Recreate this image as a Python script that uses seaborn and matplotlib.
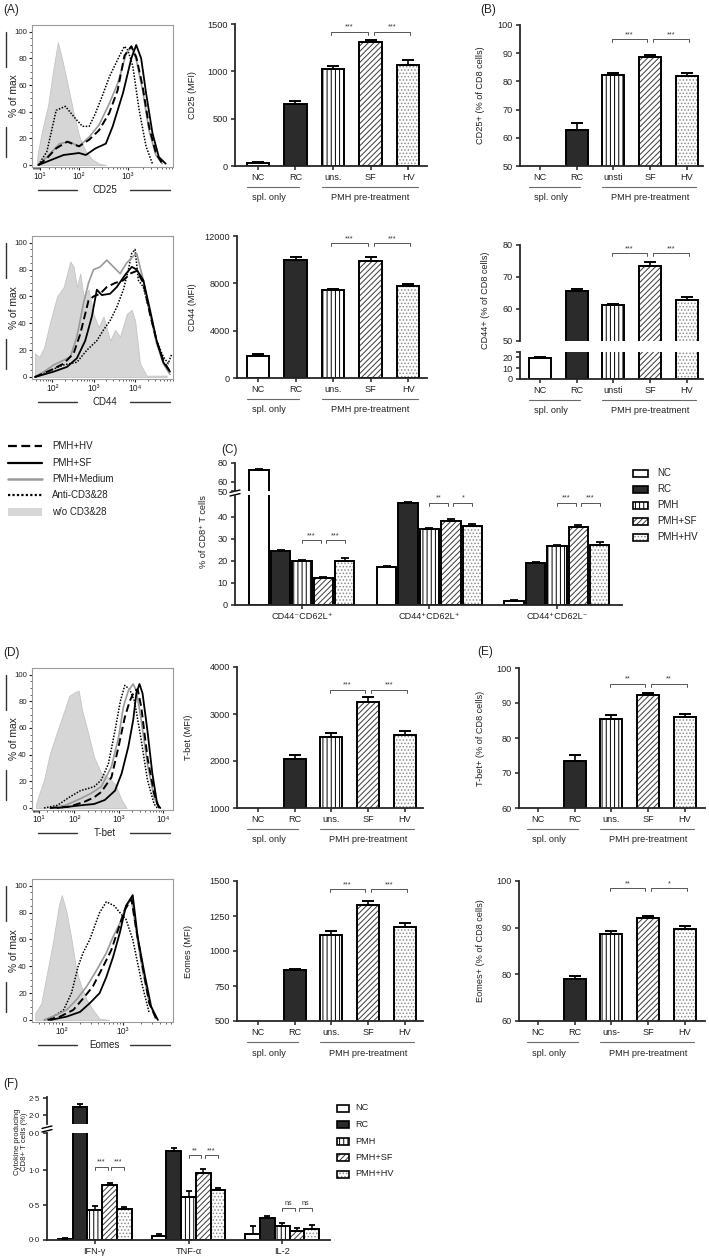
import numpy as np
import pandas as pd
import matplotlib
matplotlib.use("Agg")
import matplotlib.pyplot as plt
import matplotlib.colors as mcolors
import matplotlib.transforms as mtrans
from matplotlib.patches import Rectangle
from matplotlib.container import BarContainer
import seaborn as sns

sns.set_theme(style="ticks")
plt.rcParams["font.family"] = ["Liberation Sans", "DejaVu Sans"]
plt.rcParams["hatch.linewidth"] = 0.7
plt.rcParams["axes.linewidth"] = 1.3

# ------------------------------------------------------------------ data
conds = ["NC", "RC", "PMH", "PMH+SF", "PMH+HV"]
cats_uns = ["NC", "RC", "uns.", "SF", "HV"]
cats_unsti = ["NC", "RC", "unsti", "SF", "HV"]
cats_unsdash = ["NC", "RC", "uns-", "SF", "HV"]

cd25_mfi = [30, 650, 1025, 1315, 1065]
cd25_mfi_err = [12, 35, 35, 15, 55]
cd25_pct = [np.nan, 62.7, 82.3, 88.7, 81.9]
cd25_pct_err = [0, 2.7, 0.7, 0.5, 1.2]
cd44_mfi = [1900, 10000, 7400, 9900, 7800]
cd44_mfi_err = [100, 200, 120, 300, 180]
cd44_pct = [19.5, 65.6, 61.2, 73.5, 62.9]
cd44_pct_err = [1.2, 0.7, 0.5, 1.2, 0.8]
tbet_mfi = [np.nan, 2040, 2510, 3260, 2560]
tbet_mfi_err = [0, 90, 80, 100, 80]
tbet_pct = [np.nan, 73.5, 85.3, 92.3, 86.1]
tbet_pct_err = [0, 1.6, 1.3, 0.7, 0.8]
eomes_mfi = [np.nan, 865, 1115, 1330, 1175]
eomes_mfi_err = [0, 10, 25, 30, 28]
eomes_pct = [np.nan, 79.1, 88.7, 92.0, 89.7]
eomes_pct_err = [0, 0.5, 0.5, 0.5, 0.7]

phenotypes = ["CD44\u207bCD62L\u207a", "CD44\u207aCD62L\u207a", "CD44\u207aCD62L\u207b"]
c_vals = [[72.5, 17.4, 2.0], [24.5, 46.5, 18.9], [20.0, 34.6, 26.7],
          [12.1, 38.2, 35.3], [19.8, 35.8, 27.2]]
c_errs = [[0.8, 0.5, 0.2], [0.7, 0.5, 0.6], [0.6, 0.6, 0.5],
          [0.8, 0.8, 1.0], [1.5, 0.9, 1.4]]

cytokines = ["IFN-\u03b3", "TNF-\u03b1", "IL-2"]
f_vals = [[0.02, 0.06, 0.09], [2.25, 1.27, 0.31], [0.43, 0.61, 0.20],
          [0.78, 0.96, 0.13], [0.44, 0.71, 0.16]]
f_errs = [[0.015, 0.02, 0.11], [0.07, 0.05, 0.04], [0.06, 0.09, 0.05],
          [0.03, 0.05, 0.04], [0.03, 0.04, 0.06]]

# significance: (y position, left mark, right mark) per chart / group
sig_cd25_mfi = (1420, "***", "***")
sig_cd25_pct = (95, "***", "***")
sig_cd44_mfi = (11400, "***", "***")
sig_cd44_pct = (77.5, "***", "***")
sig_tbet_mfi = (3520, "***", "***")
sig_tbet_pct = (95.5, "**", "**")
sig_eomes_mfi = (1443, "***", "***")
sig_eomes_pct = (98.5, "**", "*")
sig_c = [(29.5, "***", "***"), (46.5, "**", "*"), (46.5, "***", "***")]
sig_f = [(1.05, "***", "***"), (1.21, "**", "***"), (0.46, "ns", "ns")]

# flow histograms: log10 intensity / % of max
hist_cd25 = {
    "grey": ([0.83, 0.9, 1.08, 1.29, 1.42, 1.54, 1.62, 1.75, 1.88, 2.0, 2.14, 2.28, 2.41, 2.55],
             [2, 10, 25, 45, 70, 92, 82, 62, 40, 22, 10, 4, 1, 0]),
    "dot": ([0.92, 1.25, 1.5, 1.71, 1.92, 2.07, 2.21, 2.34, 2.48, 2.62, 2.83, 2.93, 3.0, 3.1, 3.23, 3.37, 3.5],
            [0, 10, 41, 44, 35, 29, 29, 39, 52, 66, 82, 89, 86, 74, 41, 14, 1]),
    "med": ([0.92, 1.25, 1.58, 1.79, 2.0, 2.21, 2.41, 2.62, 2.79, 2.97, 3.07, 3.17, 3.3, 3.43, 3.57, 3.7],
            [0, 6, 16, 17.5, 14, 21, 30, 46, 61, 84, 89, 79, 56, 26, 7.5, 1]),
    "hv": ([0.92, 1.25, 1.5, 1.75, 2.0, 2.21, 2.41, 2.62, 2.79, 2.93, 3.07, 3.17, 3.3, 3.43, 3.57, 3.7],
           [0, 5, 12.5, 17.5, 14, 19, 26, 39, 56, 82, 89, 81, 59, 29, 9, 1]),
    "sf": ([0.92, 1.25, 1.67, 2.0, 2.14, 2.34, 2.55, 2.69, 2.9, 3.07, 3.17, 3.27, 3.37, 3.5, 3.63, 3.77],
           [0, 2.5, 7.5, 9, 7.5, 12.5, 16, 29, 54, 80, 90, 80, 54, 24, 6, 1]),
}
hist_cd44 = {
    "grey": ([1.56, 1.68, 1.8, 1.96, 2.12, 2.28, 2.44, 2.52, 2.6, 2.68, 2.76, 2.88, 3.0, 3.12, 3.24, 3.4,
              3.52, 3.64, 3.8, 3.92, 4.0, 4.12, 4.28, 4.76],
             [17.5, 15, 22, 42, 60, 67, 86, 82, 67, 77, 60, 65, 47, 37, 45, 27, 35, 30, 47, 50, 42, 10, 1, 1]),
    "dot": ([1.56, 1.96, 2.28, 2.6, 2.84, 3.08, 3.24, 3.4, 3.56, 3.72, 3.84, 3.92, 4.0, 4.08, 4.2, 4.36,
             4.52, 4.68, 4.8, 4.88],
            [0, 5, 9, 11, 20, 27, 35, 42, 52, 65, 80, 92, 95, 72, 67, 47, 27, 15, 10, 17]),
    "med": ([1.56, 1.8, 2.04, 2.28, 2.44, 2.6, 2.76, 2.88, 3.0, 3.16, 3.32, 3.48, 3.64, 3.8, 3.96, 4.04,
             4.2, 4.36, 4.52, 4.68, 4.84],
            [0, 4, 9, 12.5, 15, 30, 55, 70, 80, 82, 87, 82, 77, 85, 90, 92, 72, 47, 25, 10, 2]),
    "hv": ([1.56, 1.96, 2.28, 2.52, 2.68, 2.8, 2.88, 3.0, 3.16, 3.32, 3.52, 3.72, 3.88, 4.04, 4.2, 4.36,
            4.52, 4.68, 4.84],
           [0, 5, 10, 17.5, 32, 47, 57, 60, 62, 67, 70, 72, 77, 79, 70, 47, 27, 12.5, 4]),
    "sf": ([1.56, 2.04, 2.36, 2.6, 2.8, 2.96, 3.08, 3.2, 3.4, 3.56, 3.76, 3.92, 4.04, 4.2, 4.36, 4.52,
            4.68, 4.84],
           [0, 4, 7.5, 14, 27, 45, 65, 61, 62, 67, 76, 82, 80, 72, 50, 27, 11, 4]),
}
hist_tbet = {
    "grey": ([0.83, 1.02, 1.21, 1.4, 1.6, 1.79, 1.88, 2.02, 2.1, 2.18, 2.3, 2.45, 2.61, 2.77, 2.92, 3.07, 3.18],
             [3, 11, 21, 41, 58, 75, 84, 87, 88, 73, 58, 38, 26, 23, 18, 6, 0]),
    "dot": ([1.21, 1.6, 1.88, 2.14, 2.3, 2.45, 2.61, 2.77, 2.92, 3.04, 3.14, 3.25, 3.36, 3.51, 3.65, 3.8, 3.87],
            [0, 2, 8, 13, 14.5, 16, 21, 33, 58, 80, 92, 89, 80, 51, 21, 3, 0]),
    "med": ([1.4, 1.79, 2.14, 2.38, 2.61, 2.84, 3.0, 3.11, 3.22, 3.33, 3.4, 3.51, 3.65, 3.8, 3.91],
            [0, 2, 7, 11, 16, 31, 53, 76, 88, 93, 88, 66, 33, 8, 0]),
    "hv": ([1.4, 1.88, 2.22, 2.45, 2.61, 2.84, 3.0, 3.14, 3.25, 3.36, 3.43, 3.51, 3.65, 3.8, 3.91],
           [0, 1, 4.5, 8, 12, 23, 46, 68, 80, 88, 89, 76, 38, 11, 0]),
    "sf": ([1.6, 2.14, 2.45, 2.69, 2.92, 3.07, 3.22, 3.33, 3.4, 3.47, 3.54, 3.65, 3.76, 3.87, 3.94],
           [0, 2, 3, 6, 13, 26, 46, 66, 86, 93, 86, 58, 26, 3, 0]),
}
hist_eomes = {
    "grey": ([1.54, 1.65, 1.76, 1.86, 1.95, 2.0, 2.08, 2.16, 2.24, 2.32, 2.41, 2.51, 2.62, 2.78],
             [5, 12.5, 37, 60, 85, 93, 80, 60, 37, 25, 15, 7.5, 1, 0]),
    "dot": ([1.7, 1.86, 2.03, 2.16, 2.27, 2.35, 2.46, 2.54, 2.62, 2.73, 2.86, 2.95, 3.05, 3.16, 3.32, 3.43],
            [0, 2.5, 7.5, 20, 40, 50, 60, 70, 80, 88, 85, 80, 75, 60, 25, 5]),
    "med": ([1.7, 1.92, 2.08, 2.24, 2.41, 2.57, 2.73, 2.84, 2.95, 3.05, 3.14, 3.22, 3.32, 3.43, 3.54],
            [0, 4, 7.5, 15, 25, 37, 50, 62, 72, 85, 90, 65, 37, 12.5, 1]),
    "hv": ([1.76, 1.97, 2.19, 2.35, 2.51, 2.68, 2.81, 2.92, 3.03, 3.14, 3.22, 3.32, 3.43, 3.54],
           [0, 2.5, 7.5, 16, 25, 40, 52, 67, 82, 90, 67, 40, 12.5, 1]),
    "sf": ([1.81, 2.08, 2.3, 2.46, 2.62, 2.73, 2.84, 2.95, 3.05, 3.16, 3.24, 3.35, 3.46, 3.57],
           [0, 2.5, 6, 12.5, 20, 32, 47, 65, 85, 93, 62, 35, 10, 0]),
}
hist_legend = ["PMH+HV", "PMH+SF", "PMH+Medium", "Anti-CD3&28", "w/o CD3&28"]

# ------------------------------------------------------------------ helpers
W, H = 709, 1259
fig = plt.figure(figsize=(W / 100, H / 100), dpi=100)
FS = 6.6
TXT = "#222222"


def rect(l, t, r, b):
    return [l / W, 1 - b / H, (r - l) / W, (b - t) / H]


ov = fig.add_axes([0, 0, 1, 1])
ov.set_xlim(0, W)
ov.set_ylim(H, 0)
ov.axis("off")

FILL = ["white", "#2b2b2b", "white", "white", "white"]
HATCH = [None, None, "||||", "//////", "....."]


def style_bar(p, k):
    p.set_facecolor(FILL[k])
    p.set_edgecolor("black")
    p.set_linewidth(1.4)
    p.set_hatch(HATCH[k])
    if k in (3, 4):
        col = mcolors.to_rgba("#8c8c8c" if k == 4 else "#3a3a3a")
        try:
            p.set_hatchcolor(col)
        except AttributeError:
            p._hatch_color = col


def new_ax(box):
    ax = fig.add_axes(rect(*box))
    ax.patch.set_alpha(0)
    return ax


def bracket(ax, x1, x2, y, txt, hpx):
    lo, hi = ax.get_ylim()
    d = 3.0 / hpx * (hi - lo)
    ax.plot([x1, x1, x2, x2], [y - d, y, y, y - d], color="#555555", lw=0.7, clip_on=False)
    ax.text((x1 + x2) / 2, y + 0.3 * d, txt, ha="center", va="bottom", fontsize=5.2, color="#333333")


def single_bars(box, cats, vals, errs, ylim, yticks, yticklabels=None, xlim=(-0.6, 4.5),
                ylabel=None, ylabel_x=None, sig=None, show_x=True):
    l, t, r, b = box
    ax = new_ax(box)
    df = pd.DataFrame({"cat": cats, "val": vals})
    sns.barplot(data=df, x="cat", y="val", order=cats, ax=ax, width=0.6,
                errorbar=None, color="white", saturation=1)
    for p in list(ax.patches):
        style_bar(p, int(round(p.get_x() + p.get_width() / 2)))
    v = np.asarray(vals, float)
    e = np.asarray(errs, float)
    xs = np.arange(len(cats))
    m = np.isfinite(v)
    ax.errorbar(xs[m], v[m], yerr=[np.zeros(m.sum()), e[m]], fmt="none", ecolor="black",
                elinewidth=1.2, capsize=4.2, capthick=1.4, zorder=3)
    ax.set_ylim(*ylim)
    ax.set_xlim(*xlim)
    ax.set_yticks(yticks)
    if yticklabels is not None:
        ax.set_yticklabels(yticklabels)
    ax.set_xlabel("")
    ax.set_ylabel("")
    sns.despine(ax=ax)
    ax.tick_params(length=3, width=1.1, labelsize=FS, pad=2, colors=TXT)
    if show_x:
        ax.set_xticks(xs)
        ax.set_xticklabels(cats)
        tr = mtrans.blended_transform_factory(ax.transData, ax.transAxes)
        hpx = b - t
        yl, yt = -21 / hpx, -32 / hpx
        ax.plot([-0.3, 1.1], [yl, yl], transform=tr, color="#6a6a6a", lw=0.8, clip_on=False)
        ax.plot([1.7, 4.25], [yl, yl], transform=tr, color="#6a6a6a", lw=0.8, clip_on=False)
        ax.text(0.3, yt, "spl. only", transform=tr, ha="center", va="center", fontsize=FS, color=TXT)
        ax.text(3.0, yt, "PMH pre-treatment", transform=tr, ha="center", va="center", fontsize=FS, color=TXT)
    else:
        ax.spines["bottom"].set_visible(False)
        ax.set_xticks([])
    if ylabel:
        ax.set_ylabel(ylabel, fontsize=FS, color=TXT)
        ax.yaxis.set_label_coords((ylabel_x - l) / (r - l), 0.5)
    if sig is not None:
        y, s1, s2 = sig
        bracket(ax, 2 - 0.05, 3 - 0.08, y, s1, b - t)
        bracket(ax, 3 + 0.08, 4 + 0.05, y, s2, b - t)
    return ax


def grouped_bars(box, groups, vals, errs, ylim, yticks, yticklabels, xlim, width, gap,
                 capsize, show_x=True, sig=None, fs=FS):
    l, t, r, b = box
    ax = new_ax(box)
    rows = [(g, c, vals[ci][gi]) for ci, c in enumerate(conds) for gi, g in enumerate(groups)]
    df = pd.DataFrame(rows, columns=["grp", "cond", "val"])
    sns.barplot(data=df, x="grp", y="val", hue="cond", order=groups, hue_order=conds, ax=ax,
                width=width, gap=gap, errorbar=None, palette=["white"] * 5, saturation=1,
                legend=False)
    bar_conts = [c for c in ax.containers if isinstance(c, BarContainer)]
    centers = {}
    for ci, cont in enumerate(bar_conts):
        for p in list(cont.patches):
            cx = p.get_x() + p.get_width() / 2
            gi = int(round(cx))
            style_bar(p, ci)
            centers[(ci, gi)] = cx
    for (ci, gi), cx in centers.items():
        ax.errorbar([cx], [vals[ci][gi]], yerr=[[0], [errs[ci][gi]]], fmt="none", ecolor="black",
                    elinewidth=1.1, capsize=capsize, capthick=1.3, zorder=3)
    ax.set_ylim(*ylim)
    ax.set_xlim(*xlim)
    ax.set_yticks(yticks)
    ax.set_yticklabels(yticklabels)
    ax.set_xlabel("")
    ax.set_ylabel("")
    sns.despine(ax=ax)
    ax.tick_params(length=3, width=1.1, labelsize=fs, pad=2, colors=TXT)
    if show_x:
        ax.set_xticks(range(len(groups)))
        ax.set_xticklabels(groups, fontsize=FS)
    else:
        ax.spines["bottom"].set_visible(False)
        ax.set_xticks([])
    if sig is not None:
        for gi, (y, s1, s2) in enumerate(sig):
            a, c, d = centers[(2, gi)], centers[(3, gi)], centers[(4, gi)]
            bracket(ax, a, c - 0.02, y, s1, b - t)
            bracket(ax, c + 0.02, d, y, s2, b - t)
    return ax


def fwd(x):
    return np.arcsinh(np.asarray(x, float) / 20.0)


def inv(y):
    return 20.0 * np.sinh(np.asarray(y, float))


SUP = {1: "\u00b9", 2: "\u00b2", 3: "\u00b3", 4: "\u2074"}


def hist_panel(box, curves, xlim, decades, xlabel):
    l, t, r, b = box
    ax = new_ax(box)
    ax.set_xscale("function", functions=(fwd, inv))
    gx, gy = curves["grey"]
    ax.fill_between(10 ** np.asarray(gx), gy, 0, color="#d6d6d6", lw=0.6, edgecolor="#c4c4c4", zorder=1)
    dx, dy = curves["dot"]
    ax.plot(10 ** np.asarray(dx), dy, color="black", lw=1.1, ls=(0, (1, 1)), zorder=2)
    mx, my = curves["med"]
    ax.plot(10 ** np.asarray(mx), my, color="#9a9a9a", lw=1.2, zorder=2)
    hx, hy = curves["hv"]
    ax.plot(10 ** np.asarray(hx), hy, color="black", lw=1.4, ls=(0, (4, 2)), zorder=3)
    sx, sy = curves["sf"]
    ax.plot(10 ** np.asarray(sx), sy, color="black", lw=1.3, zorder=3)
    ax.set_xlim(*xlim)
    ax.set_ylim(-1.5, 105)
    ax.set_xticks([10 ** k for k in decades])
    ax.set_xticklabels(["10" + SUP[k] for k in decades], fontsize=6.2)
    minors = [m * 10 ** k for k in range(0, 6) for m in range(2, 10) if xlim[0] < m * 10 ** k < xlim[1]]
    ax.set_xticks(minors, minor=True)
    ax.set_yticks(range(0, 101, 20))
    ax.set_yticks(range(0, 101, 5), minor=True)
    for s in ax.spines.values():
        s.set_color("#9a9a9a")
        s.set_linewidth(0.8)
    ax.tick_params(which="major", length=2.5, width=0.8, labelsize=5.6, pad=1.2, colors=TXT)
    ax.tick_params(axis="x", which="major", labelsize=6.2)
    ax.tick_params(which="minor", length=1.3, width=0.5)
    ov.plot([l - 26, l - 26], [t + 7, t + 42], color="#333333", lw=1.0)
    ov.plot([l - 26, l - 26], [b - 40, b - 10], color="#333333", lw=1.0)
    ov.text(l - 18, (t + b) / 2, "% of max", rotation=90, ha="center", va="center", fontsize=7.4, color=TXT)
    yy = b + 23
    ov.plot([l + 6, l + 45], [yy, yy], color="#333333", lw=1.0)
    ov.plot([r - 43, r - 3], [yy, yy], color="#333333", lw=1.0)
    ov.text((l + r) / 2 + 2, yy, xlabel, ha="center", va="center", fontsize=7, color=TXT)
    return ax


def break_marks(x, y):
    ov.add_patch(Rectangle((x - 5, y - 1.3), 10, 2.6, facecolor="white", edgecolor="none", zorder=5))
    for dy in (-1.8, 1.8):
        ov.plot([x - 5, x + 5], [y + dy + 1.2, y + dy - 1.2], color="black", lw=1.0, zorder=6)


# ------------------------------------------------------------------ panel A
hist_panel((32, 25, 173, 167), hist_cd25, (2.1, 8300), [1, 2, 3], "CD25")
single_bars((235, 24, 427, 166), cats_uns, cd25_mfi, cd25_mfi_err, (0, 1500), [0, 500, 1000, 1500],
            xlim=(-0.61, 4.5), ylabel="CD25 (MFI)", ylabel_x=197, sig=sig_cd25_mfi)
hist_panel((32, 236, 173, 379), hist_cd44, (30, 82000), [2, 3, 4], "CD44")
single_bars((237, 236, 427, 378), cats_uns, cd44_mfi, cd44_mfi_err, (0, 12000), [0, 4000, 8000, 12000],
            xlim=(-0.56, 4.5), ylabel="CD44 (MFI)", ylabel_x=197, sig=sig_cd44_mfi)

# ------------------------------------------------------------------ panel B
single_bars((520, 25, 703, 166), cats_unsti, cd25_pct, cd25_pct_err, (50, 100), range(50, 101, 10),
            xlim=(-0.54, 4.44), ylabel="CD25+ (% of CD8 cells)", ylabel_x=485, sig=sig_cd25_pct)
single_bars((520, 245, 703, 341), cats_unsti, cd44_pct, cd44_pct_err, (50, 80), [50, 60, 70, 80],
            xlim=(-0.54, 4.44), show_x=False, sig=sig_cd44_pct)
single_bars((520, 352, 703, 379), cats_unsti, cd44_pct, cd44_pct_err, (0, 25), [0, 10, 20, 25],
            yticklabels=["0", "10", "20", ""], xlim=(-0.54, 4.44))
ov.text(485, 300, "CD44+ (% of CD8 cells)", rotation=90, ha="center", va="center", fontsize=FS, color=TXT)

# ------------------------------------------------------------------ panel C
grouped_bars((235, 495, 622, 605), phenotypes, c_vals, c_errs, (0, 50), [0, 10, 20, 30, 40],
             ["0", "10", "20", "30", "40"], (-0.525, 2.51), 0.84, 0.1, 2.6, sig=sig_c)
grouped_bars((235, 463, 622, 491), phenotypes, c_vals, c_errs, (50, 80), [50, 60, 80],
             ["50", "60", "80"], (-0.525, 2.51), 0.84, 0.1, 2.6, show_x=False)
break_marks(235, 493)
ov.text(203, 532, "% of CD8\u207a T cells", rotation=90, ha="center", va="center", fontsize=FS, color=TXT)

for i, c in enumerate(conds):
    y = 473 + i * 16
    rp = Rectangle((633, y - 3.5), 15, 7)
    ov.add_patch(rp)
    style_bar(rp, i)
    rp.set_linewidth(1.2)
    ov.text(657, y, c, ha="left", va="center", fontsize=FS + 0.4, color=TXT)

leg_y = [446, 463, 479, 495, 512]
ov.plot([8, 42], [leg_y[0]] * 2, color="black", lw=1.6, ls=(0, (4, 2)))
ov.plot([8, 42], [leg_y[1]] * 2, color="black", lw=1.6)
ov.plot([8, 42], [leg_y[2]] * 2, color="#9a9a9a", lw=1.8)
ov.plot([8, 42], [leg_y[3]] * 2, color="black", lw=1.6, ls=(0, (1, 1)))
ov.add_patch(Rectangle((8, leg_y[4] - 4), 34, 8, facecolor="#d6d6d6", edgecolor="none"))
for y, lab in zip(leg_y, hist_legend):
    ov.text(52, y, lab, ha="left", va="center", fontsize=FS + 0.4, color=TXT)

# ------------------------------------------------------------------ panel D / E
hist_panel((32, 668, 173, 810), hist_tbet, (2.4, 16800), [1, 2, 3, 4], "T-bet")
single_bars((237, 667, 423, 808), cats_uns, tbet_mfi, tbet_mfi_err, (1000, 4000), [1000, 2000, 3000, 4000],
            xlim=(-0.57, 4.49), ylabel="T-bet (MFI)", ylabel_x=193, sig=sig_tbet_mfi)
single_bars((519, 668, 705, 808), cats_uns, tbet_pct, tbet_pct_err, (60, 100), range(60, 101, 10),
            xlim=(-0.52, 4.55), ylabel="T-bet+ (% of CD8 cells)", ylabel_x=485, sig=sig_tbet_pct)
hist_panel((32, 879, 173, 1022), hist_eomes, (30, 6550), [2, 3], "Eomes")
single_bars((237, 881, 423, 1021), cats_uns, eomes_mfi, eomes_mfi_err, (500, 1500),
            [500, 750, 1000, 1250, 1500], xlim=(-0.57, 4.49), ylabel="Eomes (MFI)", ylabel_x=193,
            sig=sig_eomes_mfi)
single_bars((519, 881, 705, 1021), cats_unsdash, eomes_pct, eomes_pct_err, (70, 100), [70, 80, 90, 100],
            yticklabels=["60", "80", "90", "100"], xlim=(-0.52, 4.55),
            ylabel="Eomes+ (% of CD8 cells)", ylabel_x=485, sig=sig_eomes_pct)

# ------------------------------------------------------------------ panel F
grouped_bars((47, 1133, 330, 1240), cytokines, f_vals, f_errs, (0, 1.53), [0, 0.5, 1.0, 1.53],
             ["0\u00b70", "0\u00b75", "1\u00b70", "0\u00b70"], (-0.51, 2.51), 0.785, 0.0, 2.2, sig=sig_f,
             fs=5.6)
grouped_bars((47, 1097, 330, 1124), cytokines, f_vals, f_errs, (1.74, 2.53), [2.0, 2.5],
             ["2\u00b70", "2\u00b75"], (-0.51, 2.51), 0.785, 0.0, 2.2, show_x=False, fs=5.6)
break_marks(47, 1129)
ov.text(21, 1142, "Cytokine producing\nCD8+ T cells (%)", rotation=90, ha="center", va="center",
        fontsize=5.6, color=TXT, linespacing=1.05)
for i, c in enumerate(conds):
    y = 1108 + i * 16.5
    rp = Rectangle((337, y - 3.5), 12, 7)
    ov.add_patch(rp)
    style_bar(rp, i)
    rp.set_linewidth(1.2)
    ov.text(355, y, c, ha="left", va="center", fontsize=FS, color=TXT)

for lab, x, y in [("(A)", 3, 10), ("(B)", 480, 10), ("(C)", 221, 450), ("(D)", 3, 653),
                  ("(E)", 477, 652), ("(F)", 3, 1084)]:
    ov.text(x, y, lab, ha="left", va="center", fontsize=8.5, color=TXT)

fig.savefig("out.png", dpi=100)
